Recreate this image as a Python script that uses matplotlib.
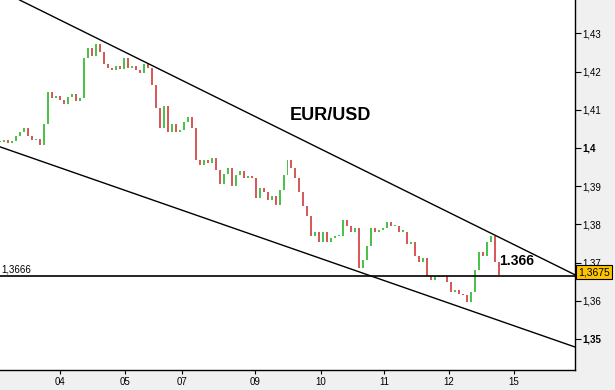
import matplotlib.pyplot as plt
import numpy as np

plt.rcParams['font.family'] = ['Liberation Sans', 'DejaVu Sans']

# hourly closes, one every ~4 px
closes = [
    1.4016, 1.4021, 1.4013, 1.4018, 1.4031, 1.4042, 1.4052, 1.4031, 1.4021, 1.4023,
    1.4008, 1.4063, 1.4146, 1.4131, 1.4136, 1.4125, 1.4115, 1.4133, 1.4141, 1.4123,
    1.4131, 1.4235, 1.4261, 1.4240, 1.4272, 1.4251, 1.4219, 1.4209, 1.4204, 1.4214,
    1.4206, 1.4235, 1.4209, 1.4214, 1.4204, 1.4196, 1.4219, 1.4209, 1.4164, 1.4104,
    1.4052, 1.4110, 1.4042, 1.4063, 1.4042, 1.4047, 1.4068, 1.4081, 1.4052, 1.3969,
    1.3956, 1.3969, 1.3961, 1.3974, 1.3943, 1.3906, 1.3932, 1.3948, 1.3901, 1.3930,
    1.3940, 1.3922, 1.3927, 1.3922, 1.3869, 1.3896, 1.3885, 1.3864, 1.3875, 1.3851,
    1.3890, 1.3930, 1.3969, 1.3948, 1.3922, 1.3885, 1.3849, 1.3822, 1.3770, 1.3781,
    1.3755, 1.3781, 1.3755, 1.3765, 1.3770, 1.3770, 1.3812, 1.3796, 1.3781, 1.3791,
    1.3687, 1.3708, 1.3744, 1.3791, 1.3781, 1.3786, 1.3791, 1.3807, 1.3796, 1.3796,
    1.3781, 1.3781, 1.3749, 1.3755, 1.3718, 1.3702, 1.3713, 1.3666, 1.3655, 1.3666,
    1.3661, 1.3666, 1.3650, 1.3624, 1.3629, 1.3619, 1.3614, 1.3598, 1.3624, 1.3681,
    1.3728, 1.3718, 1.3755, 1.3770, 1.3702, 1.3668,
]

upper_line = [(5.0, 1.4387), (144.0, 1.3668)]
lower_line = [(0.0, 1.4003), (144.0, 1.3479)]
support = 1.3666
last_price = 1.3675

day_pos = [15.0, 31.3, 45.7, 63.9, 80.4, 96.2, 112.4, 128.7]
day_labels = ['04', '05', '07', '09', '10', '11', '12', '15']
price_ticks = [1.35, 1.36, 1.37, 1.38, 1.39, 1.40, 1.41, 1.42, 1.43]

fig = plt.figure(figsize=(6.15, 3.9), dpi=100)
fig.patch.set_facecolor('#f0f0f0')
ax = fig.add_axes([0, 20 / 390, 575 / 615, 370 / 390])
ax.set_facecolor('white')

closes = np.array(closes)
opens = np.r_[closes[0], closes[:-1]]
x = np.arange(len(closes))
up = closes >= opens
bottoms = np.minimum(opens, closes)
heights = np.maximum(np.abs(closes - opens), 0.0003)
ax.bar(x[up], heights[up], bottom=bottoms[up], width=0.5, color='#4cc24c', linewidth=0)
ax.bar(x[~up], heights[~up], bottom=bottoms[~up], width=0.5, color='#d65a5a', linewidth=0)

ax.axline(upper_line[0], upper_line[1], color='black', lw=1)
ax.axline(lower_line[0], lower_line[1], color='black', lw=1)
ax.axhline(support, color='black', lw=1.2)

ax.text(0.3, support + 0.0004, '1,3666', fontsize=7, va='bottom', ha='left')
ax.text(82.8, 1.4086, 'EUR/USD', fontsize=13, weight='bold', ha='center', va='center')
ax.text(125, 1.3704, '1.366', fontsize=10, weight='bold', ha='left', va='center')

ax.annotate(str(last_price).replace('.', ','), xy=(1.0, last_price), xycoords=('axes fraction', 'data'),
            xytext=(2.5, 0), textcoords='offset points', fontsize=7.5, va='center', ha='left',
            annotation_clip=False,
            bbox=dict(boxstyle='square,pad=0.2', facecolor='#ffc400', edgecolor='black', lw=0.8))

ax.set_xlim(0, 144)
ax.set_ylim(1.34188, 1.43874)

ax.yaxis.tick_right()
ax.set_yticks(price_ticks)
ax.set_yticklabels([('%g' % t).replace('.', ',') for t in price_ticks])
for lab in ax.get_yticklabels():
    if lab.get_text() in ('1,4', '1,35'):
        lab.set_fontweight('bold')
        lab.set_fontsize(8)
ax.set_xticks(day_pos)
ax.set_xticklabels(day_labels)
ax.tick_params(axis='y', direction='out', length=4, width=0.8, pad=1, labelsize=7)
ax.tick_params(axis='x', direction='out', length=3, width=0.8, pad=2, labelsize=7)

for s in ('top', 'left'):
    ax.spines[s].set_visible(False)
for s in ('right', 'bottom'):
    ax.spines[s].set_linewidth(1)

fig.savefig('out.png', dpi=100)
